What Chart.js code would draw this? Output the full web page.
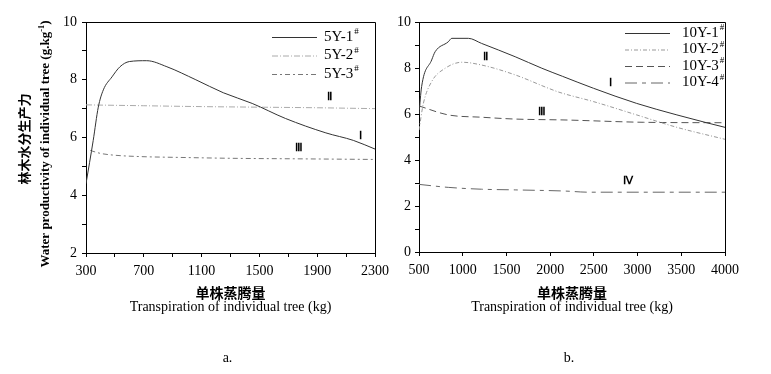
<!DOCTYPE html>
<html>
<head>
<meta charset="utf-8">
<script src="https://cdn.jsdelivr.net/npm/chart.js@4.4.0/dist/chart.umd.min.js"></script>
<style>
  html, body { margin: 0; padding: 0; background: #fff; }
  #wrap { position: relative; width: 771px; height: 374px; }
  #chartA { position: absolute; left: 0; top: 0; }
  #chartB { position: absolute; left: 395px; top: 0; }
</style>
</head>
<body>
<div id="wrap">
  <canvas id="chartA" width="395" height="374"></canvas>
  <canvas id="chartB" width="376" height="374"></canvas>
</div>
<script>
// panel a: 5-year trees
const tA1 = [300, 350, 385, 420, 480, 535, 600, 720, 860, 1060, 1250, 1450, 1680, 1960, 2150, 2300];
const wpA1 = [4.4, 5.9, 7.05, 7.65, 8.1, 8.45, 8.63, 8.66, 8.45, 8.0, 7.55, 7.18, 6.66, 6.16, 5.9, 5.6];
const tA2 = [300, 700, 1100, 1500, 1900, 2300];
const wpA2 = [7.13, 7.1, 7.07, 7.05, 7.03, 7.0];
const tA3 = [330, 400, 490, 670, 950, 1300, 1800, 2300];
const wpA3 = [5.55, 5.45, 5.39, 5.34, 5.31, 5.28, 5.26, 5.24];
const labelsA = ["5Y-1", "5Y-2", "5Y-3"];
const noteAx = [1983, 2202, 1776];
const noteAy = [7.41, 6.03, 5.63];
const noteAt = ["Ⅱ", "Ⅰ", "Ⅲ"];

// panel b: 10-year trees
const tB1 = [500, 530, 645, 685, 835, 875, 1065, 1215, 1600, 1905, 2140, 2495, 2990, 3450, 3790, 4000];
const wpB1 = [6.0, 7.19, 8.35, 8.71, 9.14, 9.29, 9.29, 9.07, 8.49, 7.99, 7.64, 7.12, 6.46, 5.96, 5.62, 5.42];
const tB2 = [500, 550, 645, 800, 990, 1215, 1600, 1980, 2100, 2495, 2990, 3450, 4000];
const wpB2 = [5.3, 6.46, 7.41, 7.99, 8.25, 8.13, 7.7, 7.12, 6.95, 6.54, 5.96, 5.42, 4.9];
const tB3 = [500, 835, 1215, 1600, 2170, 3065, 4000];
const wpB3 = [6.35, 5.96, 5.86, 5.78, 5.74, 5.64, 5.62];
const tB4 = [500, 835, 1215, 1600, 2170, 2440, 4000];
const wpB4 = [2.94, 2.81, 2.73, 2.7, 2.65, 2.6, 2.6];
const labelsB = ["10Y-1", "10Y-2", "10Y-3", "10Y-4"];
const noteBx = [1263, 2685, 1904, 2894];
const noteBy = [8.49, 7.33, 6.1, 3.06];
const noteBt = ["Ⅱ", "Ⅰ", "Ⅲ", "Ⅳ"];

const SERIF = '"Liberation Serif", "Times New Roman", serif';
const CJK = '"Noto Sans CJK SC", sans-serif';

function pts(xs, ys) {
  return xs.map((x, i) => ({ x: x, y: ys[i] }));
}

function series(label, xs, ys, color, dash) {
  return {
    label: label,
    data: pts(xs, ys),
    borderColor: color,
    borderWidth: 1,
    borderDash: dash,
    pointRadius: 0,
    fill: false,
    cubicInterpolationMode: "monotone",
  };
}

// text with superscript pieces: parts = [[text, isSup], ...]
function drawRich(ctx, parts, x, y, size, bold) {
  const w = bold ? "bold " : "";
  let total = 0;
  parts.forEach((p) => {
    ctx.font = w + (p[1] ? size * 0.65 : size) + "px " + SERIF;
    total += ctx.measureText(p[0]).width;
  });
  let cx = x - total / 2;
  ctx.textAlign = "left";
  parts.forEach((p) => {
    ctx.font = w + (p[1] ? size * 0.65 : size) + "px " + SERIF;
    ctx.fillText(p[0], cx, p[1] ? y - size * 0.35 : y);
    cx += ctx.measureText(p[0]).width;
  });
}

const decoPlugin = {
  id: "deco",
  afterDraw(chart, args, o) {
    const ctx = chart.ctx;
    const a = chart.chartArea;
    const sx = chart.scales.x;
    const sy = chart.scales.y;
    ctx.save();
    // frame top and right
    ctx.strokeStyle = "#000";
    ctx.lineWidth = 1;
    ctx.beginPath();
    ctx.moveTo(a.left, a.top + 0.5);
    ctx.lineTo(a.right + 0.5, a.top + 0.5);
    ctx.lineTo(a.right + 0.5, a.bottom);
    ctx.stroke();

    // legend
    ctx.fillStyle = "#000";
    ctx.textBaseline = "middle";
    chart.data.datasets.forEach((ds, i) => {
      const y = a.top + o.rowTop + i * o.rowStep;
      ctx.strokeStyle = ds.borderColor;
      ctx.setLineDash(ds.borderDash || []);
      ctx.beginPath();
      ctx.moveTo(a.right - o.lx1, y + 0.5);
      ctx.lineTo(a.right - o.lx2, y + 0.5);
      ctx.stroke();
      ctx.setLineDash([]);
      ctx.font = "15px " + SERIF;
      ctx.textAlign = "left";
      const tx = a.right - o.tx;
      ctx.fillText(ds.label, tx, y);
      const tw = ctx.measureText(ds.label).width;
      ctx.font = "9px " + SERIF;
      ctx.fillText("#", tx + tw + 1, y - 5);
    });

    // curve notes
    ctx.textAlign = "center";
    ctx.font = "bold 11px " + SERIF;
    o.notes.x.forEach((v, i) => {
      ctx.fillText(o.notes.t[i], sx.getPixelForValue(v), sy.getPixelForValue(o.notes.y[i]));
    });

    // x title
    const cx = (a.left + a.right) / 2;
    ctx.font = "bold 14px " + CJK;
    ctx.fillText("单株蒸腾量", cx, 293);
    ctx.font = "14px " + SERIF;
    ctx.fillText("Transpiration of individual tree (kg)", cx, 307);
    // caption
    ctx.fillText(o.caption, cx - 3, 358);

    // y title
    if (o.yTitle) {
      ctx.save();
      ctx.translate(24, 139);
      ctx.rotate(-Math.PI / 2);
      ctx.font = "bold 13px " + CJK;
      ctx.textAlign = "center";
      ctx.fillText("林木水分生产力", 0, 0);
      ctx.restore();
      ctx.save();
      ctx.translate(46, 144);
      ctx.rotate(-Math.PI / 2);
      drawRich(ctx, [["Water productivity of individual tree (g.kg", false], ["-1", true], [")", false]], 0, 0, 13, true);
      ctx.restore();
    }
    ctx.restore();
  },
};

function axes(xMin, xMax, xStep, xLabelStep, yMin, yMax, yWidth, yPad, xHeight) {
  const tickFont = { family: SERIF, size: 14 };
  return {
    x: {
      type: "linear",
      min: xMin,
      max: xMax,
      afterFit: (s) => { s.height = xHeight; },
      border: { display: true, color: "#000", width: 1 },
      grid: { drawOnChartArea: false, drawTicks: true, tickLength: 4, color: "#000" },
      ticks: {
        stepSize: xStep,
        autoSkip: false,
        maxRotation: 0,
        padding: 6,
        color: "#000",
        font: tickFont,
        callback: (v) => ((v - xMin) % xLabelStep === 0 ? String(v) : ""),
      },
    },
    y: {
      min: yMin,
      max: yMax,
      afterFit: (s) => { s.width = yWidth; },
      border: { display: true, color: "#000", width: 1 },
      grid: { drawOnChartArea: false, drawTicks: true, tickLength: 4, color: "#000" },
      ticks: {
        stepSize: 1,
        autoSkip: false,
        padding: yPad,
        color: "#000",
        font: tickFont,
        callback: (v) => (v % 2 === 0 ? String(v) : ""),
      },
    },
  };
}

new Chart(document.getElementById("chartA"), {
  type: "line",
  data: {
    datasets: [
      series(labelsA[0], tA1, wpA1, "#333", []),
      series(labelsA[1], tA2, wpA2, "#aaa", [6, 2, 1, 2]),
      series(labelsA[2], tA3, wpA3, "#777", [5, 3, 2, 3]),
    ],
  },
  options: {
    responsive: false,
    animation: false,
    layout: { padding: { left: 0, top: 22, right: 19, bottom: 0 } },
    scales: axes(300, 2300, 200, 400, 2, 10, 86, 5, 121),
    plugins: {
      legend: { display: false },
      tooltip: { enabled: false },
      deco: {
        rowTop: 15, rowStep: 18.5, lx1: 103, lx2: 58, tx: 51,
        notes: { x: noteAx, y: noteAy, t: noteAt },
        caption: "a.",
        yTitle: true,
      },
    },
  },
  plugins: [decoPlugin],
});

new Chart(document.getElementById("chartB"), {
  type: "line",
  data: {
    datasets: [
      series(labelsB[0], tB1, wpB1, "#333", []),
      series(labelsB[1], tB2, wpB2, "#999", [4, 2, 1, 2]),
      series(labelsB[2], tB3, wpB3, "#555", [7, 4]),
      series(labelsB[3], tB4, wpB4, "#666", [12, 5, 4, 5]),
    ],
  },
  options: {
    responsive: false,
    animation: false,
    layout: { padding: { left: 0, top: 22, right: 46, bottom: 0 } },
    scales: axes(500, 4000, 500, 500, 0, 10, 24, 4, 122),
    plugins: {
      legend: { display: false },
      tooltip: { enabled: false },
      deco: {
        rowTop: 11, rowStep: 16.5, lx1: 100, lx2: 55, tx: 43,
        notes: { x: noteBx, y: noteBy, t: noteBt },
        caption: "b.",
        yTitle: false,
      },
    },
  },
  plugins: [decoPlugin],
});
</script>
</body>
</html>
